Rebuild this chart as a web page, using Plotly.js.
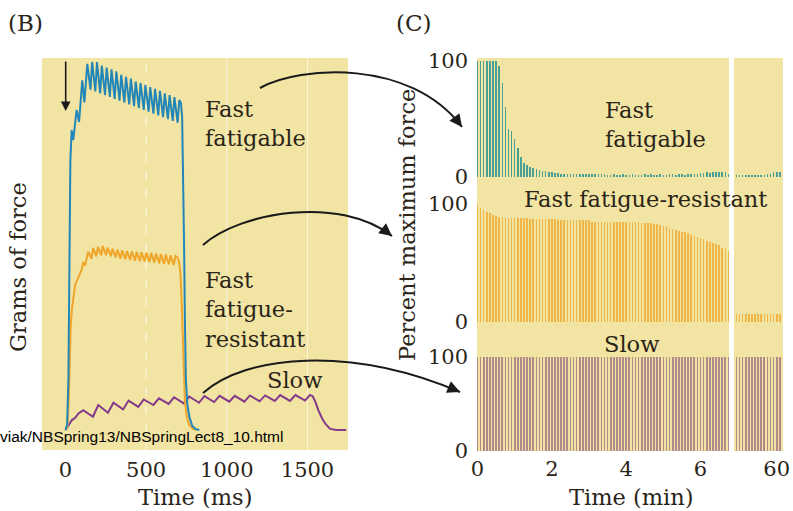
<!DOCTYPE html>
<html><head><meta charset="utf-8">
<script src="https://cdn.plot.ly/plotly-3.0.1.min.js"></script>
<style>html,body{margin:0;padding:0;background:#fff}#chart{width:793px;height:511px}</style>
</head><body><div id="chart"></div>
<script>
// ---------- Panel B: twitch/tetanus force traces (time in ms, force in arbitrary grams scale) ----------
const fastT = [0,10,18,24,30,38,48,69,84,104,117,
  135,155,165,185,195,215,225,245,255,275,285,305,315,335,345,365,375,395,405,425,435,455,465,485,495,515,525,545,555,575,585,605,615,635,645,665,675,695,705,
  715,723,730,735,740,746,755,768,785,805,830];
const fastV = [0,1.5,14,49,73,81.5,78.8,87,83.7,95,89,
  99.5,92.5,100,92,100,91.5,99,91,98.5,90.5,98,90,97.5,89.5,96.5,89,96,88.5,95.5,88,94.7,87.5,94.3,87,93.8,86.5,93.2,86,92.7,85.5,92.2,85,91.5,84.5,91,84,90.5,83.5,89.7,
  89,85,70,50,30,14,7,3.5,1.2,0.3,0];

const ffrT = [0,12,20,26,32,40,50,60,75,90,100,110,121,
  141,161,171,191,201,221,231,251,261,281,291,311,321,341,351,371,381,401,411,431,441,461,471,491,501,521,531,551,561,581,591,611,621,641,651,671,681,
  695,705,713,720,727,733,740,750,765,790,815];
const ffrV = [0,1,8,20,28,33,37,39.5,41,42.5,43.5,45.7,44.6,
  48.5,46.5,49.5,47.2,49.8,47.5,50,47.5,49.6,47.2,49.3,46.9,49,46.6,48.8,46.4,48.6,46.2,48.5,46,48.4,45.9,48.3,45.8,48.2,45.6,48.1,45.5,48,45.3,47.8,45.1,47.7,45,47.5,44.8,47.3,
  46.8,45.5,42,35,25,15,8,4,1.5,0.3,0];

const slowT = [0,20,40,60,80,110,170,203,263,297,357,391,451,485,545,579,639,673,733,767,827,861,921,955,1015,1049,1109,1143,1203,1237,1297,1331,1391,1425,1485,1515,1532,1550,1567,1590,1609,1640,1680,1740];
const slowV = [0,1.2,2.7,3.3,4.5,5.4,3.6,6.8,4.7,7.4,5.6,8.0,6.3,8.3,6.8,8.6,7.1,8.9,7.25,9.1,7.4,9.2,7.6,9.3,7.7,9.3,7.7,9.4,7.8,9.4,7.9,9.5,7.9,9.5,8.0,9.5,9.2,7.5,5.4,3.2,1.8,0.3,0,0];

const msTicks = [0,500,1000,1500];

// ---------- Panel C: percent maximum force per stimulus (time in seconds) ----------
const mainSec = [0,5,10,15,20,25,30,35,40,45,50,55,60,65,70,75,80,85,90,95,100,105,110,115,120,125,130,135,140,145,150,155,160,165,170,175,180,185,190,195,200,205,210,215,220,225,230,235,240,245,250,255,260,265,270,275,280,285,290,295,300,305,310,315,320,325,330,335,340,345,350,355,360,365,370,375,380,385,390,395,400,405];
const breakSec = [3535,3540,3545,3550,3555,3560,3565,3570,3575,3580,3585,3590,3595,3600,3605];

const ffMain = [100,100,100,100,100,100,100,96,81,60,
  41,40,33,25,17,12,10,9,8,7,
  6,5,5,4,4,3.5,3.5,3,3,3,
  3,3,3,3,3,3,2.5,2.5,2.5,2.5,
  2.5,2.5,2,2,2.5,2,2,2.5,2,2,
  2.5,2,2,2,2.5,2,2.5,2,2,2.5,
  2,2,2.5,3,2,2.5,3,2,2.5,3,
  3,2.5,3.5,3.5,4,3.5,4,4,4.5,4,
  4,3];
const ffBreak = [2,2,2,2,2,2,2,2,2,2,2.5,3,4,4.5,4.5];

const ffrMain = [99,97,95,93,92,91,90,89,89,88,
  88,88,88,88,88,88,88,87,87,87,87,87,87,87,87,87,86,86,86,86,
  86,86,86,86,86,86,86,85,85,85,85,85,85,85,85,85,85,85,85,85,
  85,85,85,84,84,84,84,83,83,82,
  81,81,80,79,78,77,76,76,75,74,
  73,72,71,70,69,68,67,66,65,63,62,60];
const ffrBreak = [7,7,7,7,7,7,7,7,7,7,7,7,7,7,7];

const slowMain = [100,100,100,100,100,100,100,100,100,100,100,100,100,100,100,100,100,100,100,100,
  100,100,100,100,100,100,100,100,100,100,100,100,100,100,100,100,100,100,100,100,
  100,100,100,100,100,100,100,100,100,100,100,100,100,100,100,100,100,100,100,100,
  100,100,100,100,100,100,100,100,100,100,100,100,100,100,100,100,100,100,100,100,
  100,100];
const slowBreak = [100,100,100,100,100,100,100,100,100,100,100,100,100,100,100];

const minTicksMain = [0,2,4,6];
const minTicksBreak = [60];
const pctTicks = [0,100];

// ---------- drawing ----------
const W = 793, H = 511;
const px = x => x / W, py = y => 1 - y / H;
const FONT = 'DejaVu Serif, serif';
const INK = '#2b2519';
const BG = '#f2e4a3';
const toMin = a => a.map(s => s / 60);

const C_FAST = '#2287b8', C_FFR = '#eea52a', C_SLOW = '#833a8a';
const B_FAST = '#4a9f97', B_FFR = '#efb547', B_SLOW = '#b08a8b';
const BW = 0.042;

function bar(x, y, xa, ya, color, w) {
  return {type:'bar', x:x, y:y, xaxis:xa, yaxis:ya, width:w, marker:{color:color, line:{width:0}}, hoverinfo:'skip'};
}

const data = [
  {type:'scatter', mode:'lines', x:slowT, y:slowV, xaxis:'x', yaxis:'y', line:{color:C_SLOW, width:2}, hoverinfo:'skip'},
  {type:'scatter', mode:'lines', x:ffrT, y:ffrV, xaxis:'x', yaxis:'y', line:{color:C_FFR, width:2}, hoverinfo:'skip'},
  {type:'scatter', mode:'lines', x:fastT, y:fastV, xaxis:'x', yaxis:'y', line:{color:C_FAST, width:2}, hoverinfo:'skip'},
  bar(toMin(mainSec), ffMain, 'x2', 'y2', B_FAST, BW),
  bar(toMin(breakSec), ffBreak, 'x3', 'y2', B_FAST, BW),
  bar(toMin(mainSec), ffrMain, 'x4', 'y3', B_FFR, BW),
  bar(toMin(breakSec), ffrBreak, 'x5', 'y3', B_FFR, BW),
  bar(toMin(mainSec), slowMain, 'x6', 'y4', B_SLOW, 0.046),
  bar(toMin(breakSec), slowBreak, 'x7', 'y4', B_SLOW, 0.046)
];

const tickfont = {family:FONT, size:21, color:INK};
const hiddenX = (dom, rng, anchor) => ({domain:dom, range:rng, anchor:anchor, showticklabels:false, ticks:'', showgrid:false, zeroline:false, showline:false, fixedrange:true});
const mainDom = [px(477), px(729)], mainRng = [-0.0135, 6.766];
const brkDom = [px(734), px(783)], brkRng = [58.851, 60.169];
const yAx = (dom, rng, anchor) => ({domain:dom, range:rng, anchor:anchor, tickvals:pctTicks, ticks:'', showgrid:false, zeroline:false, showline:false, tickfont:tickfont, ticklabelstandoff:8, fixedrange:true});

const layout = {
  width:W, height:H, margin:{l:0, r:0, t:0, b:0},
  paper_bgcolor:'#ffffff', plot_bgcolor:BG, showlegend:false, bargap:0,
  xaxis:{domain:[px(42), px(348)], range:[-145.7, 1751], anchor:'y', tickvals:msTicks, ticks:'', showgrid:false, zeroline:false, showline:false, tickfont:tickfont, ticklabelstandoff:5, fixedrange:true},
  yaxis:{domain:[py(450), py(58)], range:[-5.43, 101.1], anchor:'x', visible:false, fixedrange:true},
  xaxis2:hiddenX(mainDom, mainRng, 'y2'),
  xaxis3:hiddenX(brkDom, brkRng, 'y2'),
  xaxis4:hiddenX(mainDom, mainRng, 'y3'),
  xaxis5:hiddenX(brkDom, brkRng, 'y3'),
  xaxis6:Object.assign(hiddenX(mainDom, mainRng, 'y4'), {showticklabels:true, tickvals:minTicksMain, tickfont:tickfont, ticklabelstandoff:3}),
  xaxis7:Object.assign(hiddenX(brkDom, brkRng, 'y4'), {showticklabels:true, tickvals:minTicksBreak, tickfont:tickfont, ticklabelstandoff:3}),
  yaxis2:yAx([py(180), py(58)], [-2.6, 102.6], 'x2'),
  yaxis3:yAx([py(326), py(180)], [-3.4, 120.3], 'x4'),
  yaxis4:yAx([py(451), py(326)], [-0.5, 133], 'x6'),
  shapes: [],
  annotations: []
};

// light grid lines in panel B at the tick times
msTicks.slice(1).forEach((t, i) => layout.shapes.push({type:'line', xref:'x', yref:'y domain', x0:t, x1:t, y0:0, y1:1, layer:'below', line:{color: i === 0 ? 'rgba(255,255,255,0.85)' : 'rgba(255,255,255,0.6)', width:1, dash: i === 0 ? 'dash' : 'solid'}}));

// curved connector arrows (pixel geometry converted to paper coordinates)
function curve(p0, c1, c2, p3) {
  const f = p => px(p[0]).toFixed(5) + ',' + py(p[1]).toFixed(5);
  return {type:'path', xref:'paper', yref:'paper', path:'M' + f(p0) + ' C' + f(c1) + ' ' + f(c2) + ' ' + f(p3), line:{color:'#1a1a1a', width:2}};
}
function head(c2, p3) {
  const dx = p3[0] - c2[0], dy = p3[1] - c2[1], L = Math.hypot(dx, dy);
  return {xref:'paper', yref:'paper', x:px(p3[0]), y:py(p3[1]), ax:-dx / L * 12, ay:-dy / L * 12, text:'', showarrow:true, arrowhead:2, arrowsize:1.4, arrowwidth:1.8, arrowcolor:'#1a1a1a', standoff:0};
}
const curves = [
  [[260, 88], [300, 66], [410, 58], [462, 127]],
  [[203, 245], [240, 212], [340, 195], [392, 236]],
  [[203, 393], [245, 355], [350, 345], [460, 392]]
];
curves.forEach(c => { layout.shapes.push(curve(c[0], c[1], c[2], c[3])); layout.annotations.push(head(c[2], c[3])); });

// stimulus arrow in panel B
layout.annotations.push({xref:'paper', yref:'paper', x:px(65.7), y:py(111), ax:0, ay:-51, text:'', showarrow:true, arrowhead:2, arrowsize:1.2, arrowwidth:1.6, arrowcolor:'#1a1a1a', standoff:0});

const txt = (s, x, y, o) => Object.assign({xref:'paper', yref:'paper', x:px(x), y:py(y), text:s, showarrow:false, xanchor:'center', yanchor:'middle', font:{family:FONT, size:22.5, color:INK}}, o || {});
layout.annotations.push(
  txt('(B)', 25, 23, {font:{family:FONT, size:23, color:INK}}),
  txt('(C)', 414, 23, {font:{family:FONT, size:23, color:INK}}),
  txt('Fast<br>fatigable', 203, 123, {xanchor:'left', align:'left'}),
  txt('Fast<br>fatigue-<br>resistant', 203, 309, {xanchor:'left', align:'left'}),
  txt('Slow', 294, 380),
  txt('Fast<br>fatigable', 603, 124, {xanchor:'left', align:'left'}),
  txt('Fast fatigue-resistant', 645, 199),
  txt('Slow', 631, 344),
  txt('Grams of force', 18, 267, {textangle:-90}),
  txt('Percent maximum force', 407, 225, {textangle:-90}),
  txt('Time (ms)', 195, 497),
  txt('Time (min)', 631, 497),
  txt('viak/NBSpring13/NBSpringLect8_10.html', -2, 436, {xanchor:'left', font:{family:'Liberation Sans, Arial, sans-serif', size:15.5, color:'#000'}})
);

Plotly.newPlot('chart', data, layout, {staticPlot:true, displayModeBar:false});
</script>
</body></html>
